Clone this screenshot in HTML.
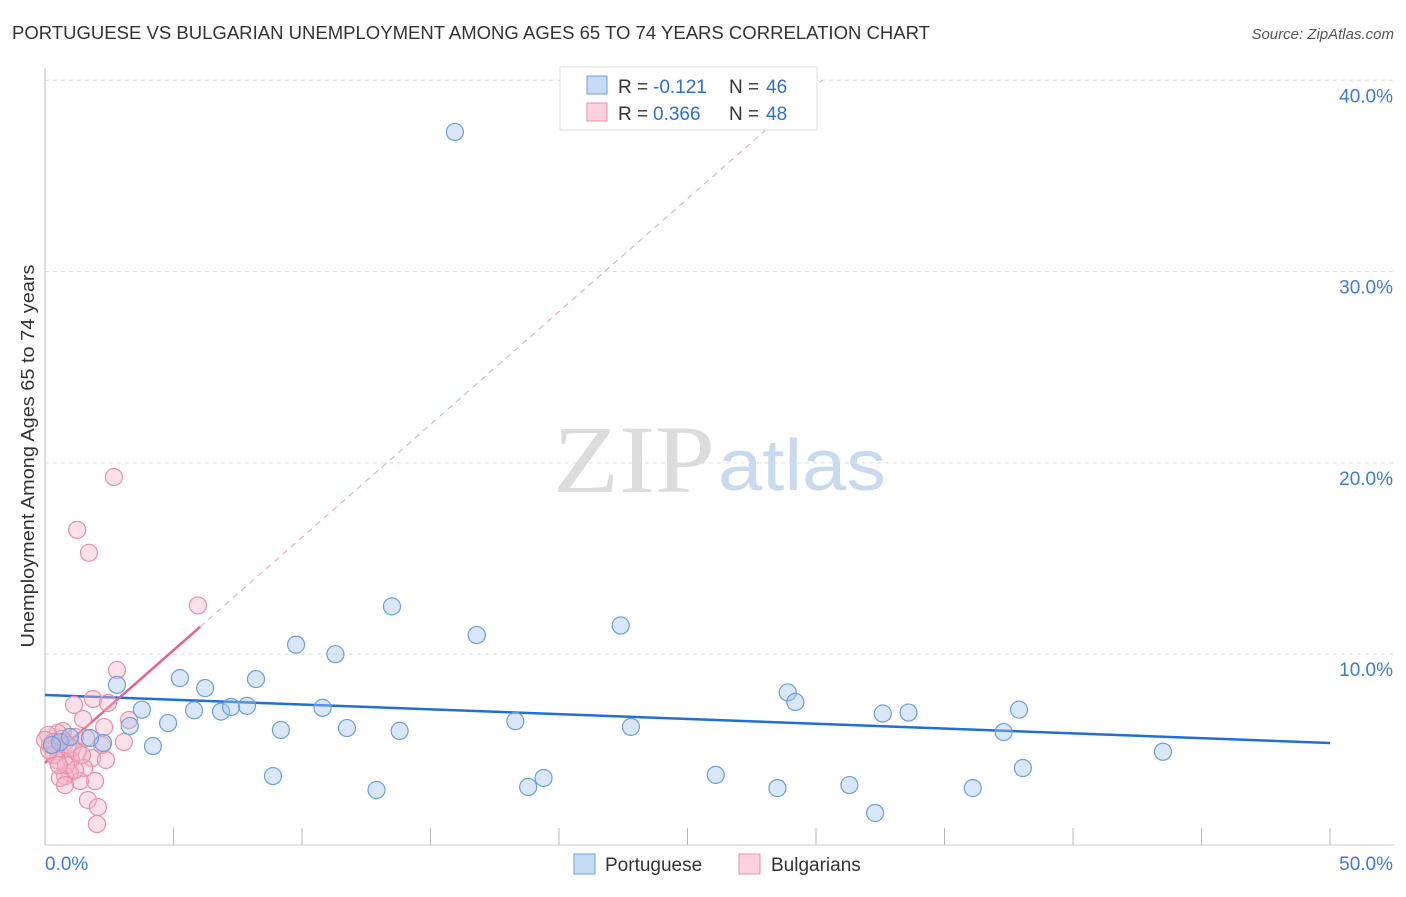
<!DOCTYPE html>
<html><head><meta charset="utf-8"><style>
body{margin:0;background:#fff;font-family:"Liberation Sans",sans-serif;}
</style></head><body>
<svg id="c" width="1406" height="892" font-family="Liberation Sans, sans-serif">
<text x="12" y="39" font-size="18" fill="#333" textLength="918" lengthAdjust="spacingAndGlyphs">PORTUGUESE VS BULGARIAN UNEMPLOYMENT AMONG AGES 65 TO 74 YEARS CORRELATION CHART</text>
<text x="1394" y="39" font-size="15" fill="#555" font-style="italic" text-anchor="end">Source: ZipAtlas.com</text>
<text x="34" y="456" font-size="18" fill="#333" text-anchor="middle" textLength="383" lengthAdjust="spacingAndGlyphs" transform="rotate(-90 34 456)">Unemployment Among Ages 65 to 74 years</text>
<g><text x="553" y="492" style="font-family:'Liberation Serif',serif" font-size="96" fill="#dcdcdc" textLength="162" lengthAdjust="spacingAndGlyphs">ZIP</text><text x="718" y="490" font-size="72" fill="#c8d9f0" textLength="168" lengthAdjust="spacingAndGlyphs">atlas</text></g>
<g id="grid"></g><g id="axes"></g><g id="lines"></g><g id="pts"></g>
<g>
<rect x="560" y="67" width="257" height="63" fill="#fff" stroke="#ddd"/>
<rect x="587" y="76" width="20" height="18" fill="rgba(160,196,240,0.6)" stroke="#6a9fe0"/>
<rect x="587" y="103" width="20" height="18" fill="rgba(248,180,200,0.6)" stroke="#e890aa"/>
<text x="618" y="93" font-size="19" fill="#333">R =</text><text x="653" y="93" font-size="19" fill="#2f6fd0">-0.121</text>
<text x="729" y="93" font-size="19" fill="#333">N =</text><text x="766" y="93" font-size="19" fill="#2f6fd0">46</text>
<text x="618" y="120" font-size="19" fill="#333">R =</text><text x="653" y="120" font-size="19" fill="#2f6fd0">0.366</text>
<text x="729" y="120" font-size="19" fill="#333">N =</text><text x="766" y="120" font-size="19" fill="#2f6fd0">48</text>
</g>
<g>
<rect x="574" y="854" width="21" height="20" fill="rgba(160,196,240,0.6)" stroke="#6a9fe0"/>
<text x="605" y="871" font-size="19" fill="#333">Portuguese</text>
<rect x="739" y="854" width="21" height="20" fill="rgba(248,180,200,0.6)" stroke="#e890aa"/>
<text x="771" y="871" font-size="19" fill="#333">Bulgarians</text>
</g>
</svg>
<script>
const blueX=[15.95,13.5,16.8,22.4,9.77,11.3,5.25,6.23,8.21,2.8,3.77,5.8,6.85,7.24,7.86,4.79,10.8,18.3,22.8,28.9,29.2,32.6,33.6,37.9,37.3,43.5,38.05,9.18,11.75,13.8,3.3,4.2,2.26,8.87,12.9,18.8,19.4,26.1,28.5,31.3,32.3,36.1,0.58,0.97,1.75,0.27];
const blueY=[37.3,12.5,11.0,11.5,10.5,10.0,8.75,8.23,8.7,8.4,7.1,7.07,7.0,7.24,7.3,6.4,7.2,6.5,6.2,8.0,7.5,6.9,6.95,7.1,5.93,4.9,4.05,6.04,6.14,5.99,6.25,5.2,5.36,3.63,2.9,3.06,3.53,3.69,3.0,3.16,1.7,3.0,5.4,5.67,5.62,5.25];
const pinkX=[2.68,1.25,1.71,5.95,2.8,1.87,2.45,1.13,1.48,3.27,2.3,0.7,0.5,1.17,1.6,0.19,0.39,0.78,3.07,2.22,0.58,1.28,1.83,2.37,1.01,0.47,1.52,0.97,0.78,0.58,1.95,1.36,0.78,1.67,2.06,2.02,0.12,0.31,0.66,0.89,1.05,0.35,1.44,0.82,1.17,0.16,0.54,0];
const pinkY=[19.26,16.5,15.3,12.55,9.17,7.66,7.45,7.35,6.61,6.56,6.19,5.98,5.88,5.67,5.62,5.25,5.15,5.41,5.41,5.25,4.89,4.89,4.57,4.47,4.47,4.47,4.05,3.79,3.63,3.53,3.37,3.37,3.16,2.38,2.01,1.12,5.78,5.41,5.57,5.25,5.1,4.73,4.73,4.2,3.95,4.99,4.2,5.52];
const yTicks=[10,20,30,40];
const yTickLabels=["10.0%","20.0%","30.0%","40.0%"];
const blueTrend=[7.87,5.36];
const pinkTrend=[4.31,1.18];
const NS="http://www.w3.org/2000/svg";
const sx=v=>45+v*25.7, sy=v=>845.5-v*19.13;
function mk(p,t,a){const e=document.createElementNS(NS,t);for(const k in a)e.setAttribute(k,a[k]);document.getElementById(p).appendChild(e);return e;}
yTicks.forEach((t,i)=>{
 const g=mk('grid','line',{x1:45,x2:1394,y1:sy(t),y2:sy(t),stroke:'#ddd','stroke-dasharray':'4,4'});
 
 
 const l=mk('grid','text',{x:1393,y:sy(t)+22,'font-size':19,fill:'#3d7bd6','text-anchor':'end'});l.textContent=yTickLabels[i];
 
 
});
const ax=mk('axes','line',{x1:45,x2:45,y1:68,y2:845,stroke:'#bbb'});


const bx=mk('axes','line',{x1:45,x2:1394,y1:845,y2:845,stroke:'#ccc'});


for(let k=1;k<=10;k++){const t=mk('axes','line',{x1:sx(k*5),x2:sx(k*5),y1:828,y2:845,stroke:'#bbb'});
 
 }
const x0=mk('axes','text',{x:45,y:870,'font-size':19,fill:'#3d7bd6'});x0.textContent='0.0%';


const x1=mk('axes','text',{x:1393,y:870,'font-size':19,fill:'#3d7bd6','text-anchor':'end'});x1.textContent='50.0%';


const bl=mk('lines','line',{x1:sx(0),y1:sy(blueTrend[0]),x2:sx(50),y2:sy(blueTrend[1]),stroke:'#1f6fd6','stroke-width':2.5});


const pxEnd=6.03, pxDash=(40-pinkTrend[0])/pinkTrend[1];
const pd=mk('lines','line',{x1:sx(pxEnd),y1:sy(pinkTrend[0]+pinkTrend[1]*pxEnd),x2:sx(pxDash),y2:sy(40),stroke:'#e8a0b4','stroke-width':1,'stroke-dasharray':'6,5'});


const pl=mk('lines','line',{x1:sx(0),y1:sy(pinkTrend[0]),x2:sx(pxEnd),y2:sy(pinkTrend[0]+pinkTrend[1]*pxEnd),stroke:'#e8628a','stroke-width':2.5});


pinkX.forEach((x,i)=>{const c=mk('pts','circle',{cx:sx(x),cy:sy(pinkY[i]),r:8.5,fill:'rgba(248,180,200,0.4)',stroke:'#e890aa','stroke-width':1.2});
 
 });
blueX.forEach((x,i)=>{const c=mk('pts','circle',{cx:sx(x),cy:sy(blueY[i]),r:8.5,fill:'rgba(160,196,240,0.4)',stroke:'#6a9fe0','stroke-width':1.2});
 
 });
</script>
</body></html>
